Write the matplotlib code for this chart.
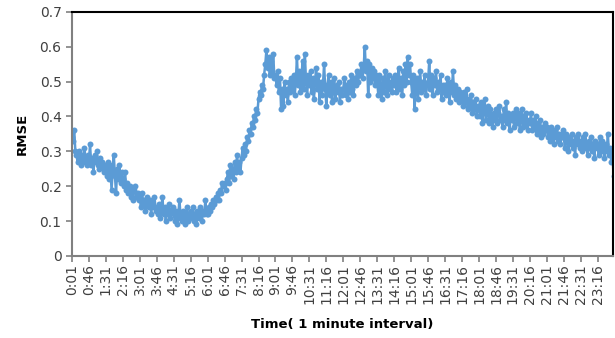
import numpy as np
import matplotlib
matplotlib.use("Agg")
import matplotlib.pyplot as plt

# RMSE, one value every 3 minutes (15 values per 45-minute tick)
rmse = [
    0.34, 0.33, 0.36, 0.30, 0.29, 0.27, 0.30, 0.28, 0.26, 0.29, 0.27, 0.31, 0.28, 0.26, 0.29,
    0.27, 0.32, 0.26, 0.28, 0.24, 0.29, 0.27, 0.30, 0.26, 0.25, 0.28, 0.26, 0.27, 0.24, 0.26,
    0.25, 0.23, 0.27, 0.22, 0.26, 0.19, 0.24, 0.29, 0.23, 0.18, 0.25, 0.22, 0.26, 0.21, 0.24,
    0.22, 0.20, 0.24, 0.19, 0.21, 0.18, 0.20, 0.17, 0.19, 0.16, 0.19, 0.20, 0.17, 0.18, 0.16,
    0.17, 0.14, 0.18, 0.15, 0.16, 0.13, 0.17, 0.15, 0.14, 0.16, 0.12, 0.15, 0.14, 0.17, 0.13,
    0.14, 0.12, 0.15, 0.11, 0.13, 0.17, 0.12, 0.14, 0.10, 0.13, 0.12, 0.15, 0.11, 0.13, 0.14,
    0.12, 0.10, 0.13, 0.09, 0.11, 0.16, 0.12, 0.10, 0.13, 0.11, 0.09, 0.12, 0.14, 0.10, 0.12,
    0.13, 0.11, 0.14, 0.10, 0.12, 0.09, 0.13, 0.11, 0.14, 0.12, 0.10, 0.13, 0.12, 0.16, 0.12,
    0.12, 0.14, 0.13, 0.15, 0.14, 0.16, 0.15, 0.17, 0.16, 0.18, 0.16, 0.19, 0.18, 0.21, 0.20,
    0.21, 0.19, 0.22, 0.24, 0.21, 0.26, 0.23, 0.25, 0.22, 0.27, 0.24, 0.29, 0.25, 0.27, 0.24,
    0.28, 0.31, 0.29, 0.32, 0.30, 0.34, 0.33, 0.36, 0.35, 0.38, 0.37, 0.40, 0.39, 0.42, 0.41,
    0.45, 0.47, 0.46, 0.49, 0.48, 0.52, 0.55, 0.59, 0.54, 0.57, 0.52, 0.56, 0.53, 0.58, 0.51,
    0.52, 0.49, 0.53, 0.47, 0.51, 0.42, 0.48, 0.43, 0.50, 0.46, 0.48, 0.44, 0.50, 0.47, 0.51,
    0.48, 0.52, 0.46, 0.50, 0.57, 0.49, 0.53, 0.47, 0.51, 0.56, 0.48, 0.58, 0.50, 0.46, 0.52,
    0.49, 0.53, 0.47, 0.51, 0.45, 0.50, 0.54, 0.48, 0.52, 0.44, 0.50, 0.46, 0.49, 0.55, 0.48,
    0.43, 0.49, 0.52, 0.46, 0.50, 0.44, 0.48, 0.51, 0.45, 0.49, 0.47, 0.50, 0.44, 0.48, 0.46,
    0.48, 0.51, 0.46, 0.49, 0.45, 0.50, 0.47, 0.52, 0.48, 0.46, 0.51, 0.49, 0.53, 0.50, 0.52,
    0.52, 0.55, 0.51, 0.54, 0.60, 0.53, 0.56, 0.46, 0.55, 0.50, 0.54, 0.51, 0.53, 0.49, 0.52,
    0.50, 0.46, 0.52, 0.48, 0.45, 0.51, 0.47, 0.53, 0.49, 0.46, 0.52, 0.48, 0.50, 0.47, 0.51,
    0.49, 0.52, 0.47, 0.50, 0.54, 0.48, 0.51, 0.46, 0.53, 0.49, 0.55, 0.50, 0.57, 0.52, 0.55,
    0.50, 0.46, 0.52, 0.42, 0.48, 0.51, 0.45, 0.49, 0.53, 0.47, 0.50, 0.48, 0.52, 0.46, 0.49,
    0.50, 0.56, 0.48, 0.52, 0.46, 0.51, 0.49, 0.53, 0.47, 0.50, 0.48, 0.52, 0.45, 0.49, 0.47,
    0.49, 0.46, 0.51, 0.48, 0.44, 0.50, 0.47, 0.53, 0.46, 0.49, 0.45, 0.48, 0.44, 0.47, 0.45,
    0.46, 0.43, 0.47, 0.44, 0.48, 0.42, 0.45, 0.43, 0.46, 0.41, 0.44, 0.42, 0.45, 0.40, 0.43,
    0.43, 0.40, 0.44, 0.38, 0.42, 0.45, 0.39, 0.41, 0.43, 0.38, 0.42, 0.40, 0.37, 0.41, 0.39,
    0.42, 0.38, 0.41, 0.43, 0.39, 0.40, 0.37, 0.42, 0.39, 0.44, 0.38, 0.41, 0.36, 0.40, 0.39,
    0.41, 0.37, 0.40, 0.42, 0.38, 0.41, 0.36, 0.39, 0.42, 0.37, 0.40, 0.38, 0.41, 0.36, 0.39,
    0.38, 0.41, 0.36, 0.39, 0.37, 0.40, 0.35, 0.38, 0.36, 0.39, 0.34, 0.37, 0.35, 0.38, 0.36,
    0.37, 0.34, 0.36, 0.33, 0.37, 0.35, 0.32, 0.36, 0.34, 0.37, 0.33, 0.35, 0.32, 0.34, 0.36,
    0.34, 0.31, 0.35, 0.33, 0.30, 0.34, 0.32, 0.35, 0.31, 0.33, 0.29, 0.34, 0.32, 0.35, 0.31,
    0.33, 0.30, 0.34, 0.31, 0.35, 0.32, 0.29, 0.33, 0.31, 0.34, 0.30, 0.32, 0.28, 0.33, 0.31,
    0.32, 0.29, 0.34, 0.30, 0.33, 0.31, 0.28, 0.32, 0.30, 0.35, 0.29, 0.31, 0.27, 0.30, 0.23,
]
minutes = np.arange(len(rmse)) * 3

tick_labels = [
    "0:01", "0:46", "1:31", "2:16", "3:01", "3:46", "4:31", "5:16",
    "6:01", "6:46", "7:31", "8:16", "9:01", "9:46", "10:31", "11:16",
    "12:01", "12:46", "13:31", "14:16", "15:01", "15:46", "16:31", "17:16",
    "18:01", "18:46", "19:31", "20:16", "21:01", "21:46", "22:31", "23:16",
]
tick_pos = np.arange(len(tick_labels)) * 45

fig = plt.figure(figsize=(6.15, 3.38), dpi=100)
ax = fig.add_axes([0.117, 0.243, 0.880, 0.722])

ax.plot(minutes, rmse, color="#5B9BD5", linewidth=1.8,
        marker="o", markersize=4.3, markeredgewidth=0)

ax.set_xlim(0, 1436)
ax.set_ylim(0, 0.7)
ax.set_yticks(np.arange(0, 0.71, 0.1))
ax.set_yticklabels(["0"] + [f"{v:.1f}" for v in np.arange(0.1, 0.71, 0.1)])
ax.set_xticks(tick_pos)
ax.set_xticklabels(tick_labels, rotation=90)

txt = "#404040"
ax.tick_params(axis="both", colors="#808080", labelcolor=txt, labelsize=10,
               length=4, width=1.2, direction="out")
ax.tick_params(axis="x", pad=2)

for side in ("left", "bottom"):
    ax.spines[side].set_color("#808080")
    ax.spines[side].set_linewidth(1.5)
for side in ("top", "right"):
    ax.spines[side].set_color("black")
    ax.spines[side].set_linewidth(1.5)

ax.set_ylabel("RMSE", fontsize=9.5, fontweight="bold", color="black", labelpad=8)
ax.set_xlabel("Time( 1 minute interval)", fontsize=9.5, fontweight="bold",
              color="black", labelpad=10)

fig.savefig("out.png", dpi=100)
